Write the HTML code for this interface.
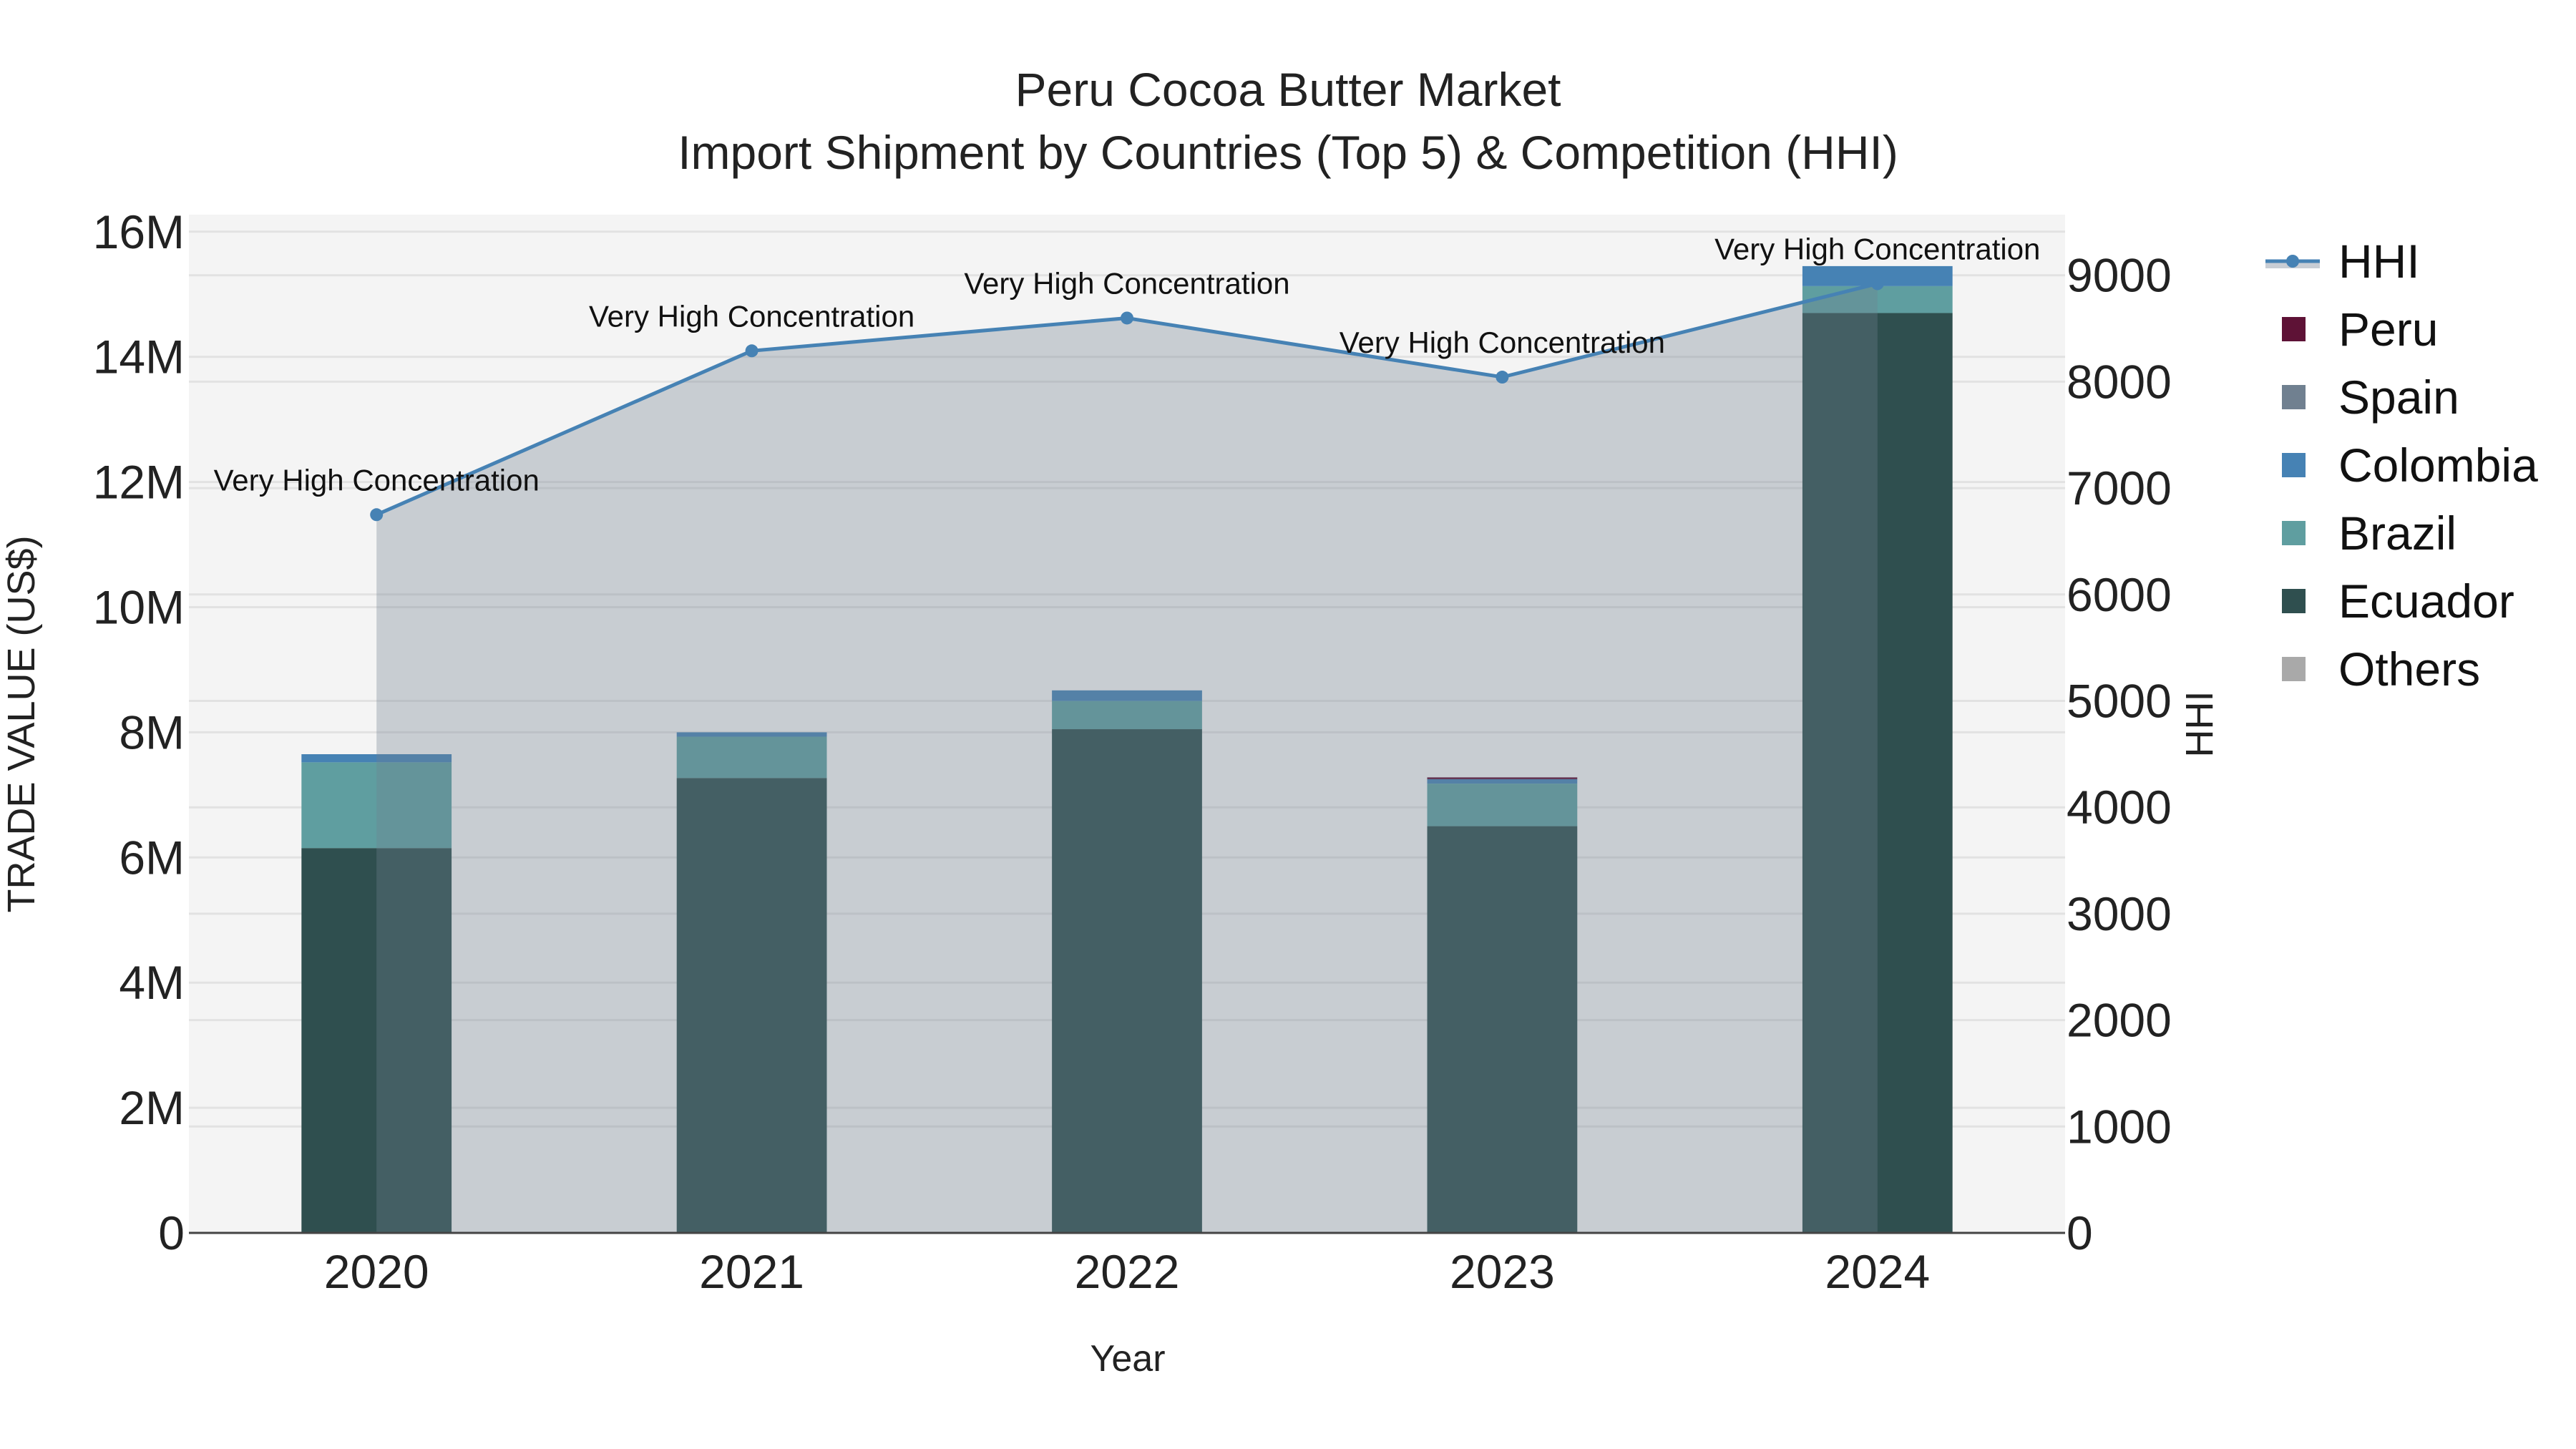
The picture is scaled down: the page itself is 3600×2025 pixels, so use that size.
<!DOCTYPE html>
<html><head><meta charset="utf-8"><style>
html,body{margin:0;padding:0;background:#fff;}
svg{display:block;font-family:"Liberation Sans",sans-serif;}
</style></head><body>
<svg id="chart" width="3600" height="2025" viewBox="0 0 3600 2025">
<rect x="264" y="300" width="2622" height="1423" fill="#f4f4f4"/>
<g id="grid"></g><g id="bars"></g><g id="area"></g><g id="axes"></g>
<text x="1800" y="148" font-size="66" text-anchor="middle" fill="#222">Peru Cocoa Butter Market</text>
<text x="1800" y="236" font-size="66" text-anchor="middle" fill="#222">Import Shipment by Countries (Top 5) &amp; Competition (HHI)</text>
<text x="1576" y="1916" font-size="52" text-anchor="middle" fill="#222">Year</text>
<text transform="translate(48,1012) rotate(-90)" font-size="54" text-anchor="middle" fill="#222">TRADE VALUE (US$)</text>
<text transform="translate(3092,1012) rotate(-90)" font-size="54" text-anchor="middle" fill="#222">HHI</text>
<g id="legend"></g>
</svg>
<script>
const years=["2020","2021","2022","2023","2024"];
const ecuador=[6.15,7.27,8.05,6.5,14.7];
const brazil=[1.37,0.66,0.45,0.68,0.43];
const colombia=[0.13,0.07,0.17,0.07,0.32];
const spain=[0,0,0,0,0];
const peru=[0,0,0,0.03,0];
const others=[0,0,0,0,0];
const hhi=[6750,8290,8598,8043,8921];
const leftTicks=[0,2,4,6,8,10,12,14,16];
const leftTickLabels=["0","2M","4M","6M","8M","10M","12M","14M","16M"];
const rightTicks=[0,1000,2000,3000,4000,5000,6000,7000,8000,9000];

const NS="http://www.w3.org/2000/svg";
const L=264,R=2886,B=1723;
const yL=v=>B-v*87.45;
const yR=v=>B-v*0.1487;
const band=(R-L)/years.length;
const xC=i=>L+band*(i+0.5);
function mk(tag,attrs,parent,txt){const e=document.createElementNS(NS,tag);for(const k in attrs)e.setAttribute(k,attrs[k]);if(txt!==undefined)e.textContent=txt;document.getElementById(parent).appendChild(e);return e;}
leftTicks.forEach((t,i)=>{
 const g=mk('line',{x1:L,x2:R,y1:yL(t),y2:yL(t),stroke:'#e2e2e2','stroke-width':3},'grid');
 
 
 const tx=mk('text',{x:258,y:yL(t)+23,'font-size':66,'text-anchor':'end',fill:'#222'},'axes',leftTickLabels[i]);
 
 
});
rightTicks.forEach(t=>{
 const g=mk('line',{x1:L,x2:R,y1:yR(t),y2:yR(t),stroke:'#e2e2e2','stroke-width':3},'grid');
 
 
 const tx=mk('text',{x:2888,y:yR(t)+23,'font-size':66,fill:'#222'},'axes',String(t));
 
 
});
const series=[["ecuador",ecuador,"#2f4f4f"],["brazil",brazil,"#5f9ea0"],["colombia",colombia,"#4682b4"],["spain",spain,"#708090"],["peru",peru,"#5e1236"],["others",others,"#a9a9a9"]];
const bw=band*0.4;
years.forEach((y,i)=>{
 let base=0;
 series.forEach(s=>{
  const v=s[1][i]; if(v<=0)return;
  const r=mk('rect',{x:xC(i)-bw/2,y:yL(base+v),width:bw,height:yL(base)-yL(base+v),fill:s[2]},'bars');
  
  
  base+=v;
 });
 const xt=mk('text',{x:xC(i),y:1800,'font-size':66,'text-anchor':'middle',fill:'#222'},'axes',y);
 
 
});
let d='M'+xC(0)+','+B;
hhi.forEach((v,i)=>{d+=' L'+xC(i)+','+yR(v);});
d+=' L'+xC(hhi.length-1)+','+B+' Z';
const ar=mk('path',{d:d,fill:'rgba(112,128,144,0.33)'},'area');


const ln=mk('polyline',{points:hhi.map((v,i)=>xC(i)+','+yR(v)).join(' '),fill:'none',stroke:'#4682b4','stroke-width':5},'area');


hhi.forEach((v,i)=>{
 const c=mk('circle',{cx:xC(i),cy:yR(v),r:9,fill:'#4682b4'},'area');
 
 
 const a=mk('text',{x:xC(i),y:yR(v)-34,'font-size':42,'text-anchor':'middle',fill:'#111'},'area','Very High Concentration');
 
 
});
const axl=mk('line',{x1:L,x2:R,y1:B,y2:B,stroke:'#444','stroke-width':3},'axes');


const leg=[["HHI",null],["Peru","#5e1236"],["Spain","#708090"],["Colombia","#4682b4"],["Brazil","#5f9ea0"],["Ecuador","#2f4f4f"],["Others","#a9a9a9"]];
leg.forEach((e,i)=>{
 const y=365+i*95;
 if(e[1]===null){
  const g=mk('rect',{x:3166,y:y,width:76,height:10,fill:'#c8cdd4'},'legend');
  
  
  const l=mk('line',{x1:3166,x2:3242,y1:y,y2:y,stroke:'#4682b4','stroke-width':5},'legend');
  
  
  const c=mk('circle',{cx:3204,cy:y,r:9,fill:'#4682b4'},'legend');
  
  
 } else {
  const s=mk('rect',{x:3189,y:y-17,width:33,height:34,fill:e[1]},'legend');
  
  
 }
 const t=mk('text',{x:3268,y:y+23,'font-size':66,fill:'#111'},'legend',e[0]);
 
 
});
</script>
</body></html>
